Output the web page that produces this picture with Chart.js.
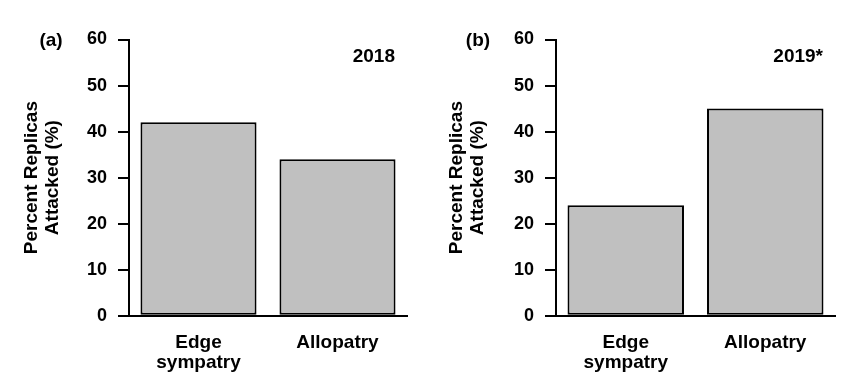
<!DOCTYPE html>
<html>
<head>
<meta charset="utf-8">
<script src="https://cdn.jsdelivr.net/npm/chart.js@4/dist/chart.umd.min.js"></script>
<style>
  html, body { margin: 0; padding: 0; background: #ffffff; }
  #wrap { position: relative; width: 850px; height: 384px; background: #ffffff; }
  .panel { position: absolute; top: 0; width: 425px; height: 384px; }
</style>
</head>
<body>
<div id="wrap">
  <div class="panel" style="left:0"><canvas id="chartA"></canvas></div>
  <div class="panel" style="left:425px"><canvas id="chartB"></canvas></div>
</div>
<script>
// ---- data ----
const categories = [['Edge', 'sympatry'], 'Allopatry'];
const attacked2018 = [42, 34];
const attacked2019 = [24, 45];
const yTickValues = [0, 10, 20, 30, 40, 50, 60];
const panelLabels = ['(a)', '(b)'];
const yearLabels = ['2018', '2019*'];
const yTitle = ['Percent Replicas', 'Attacked (%)'];

const FONT = "'Liberation Sans', Arial, sans-serif";

const annotatePlugin = {
  id: 'annotate',
  afterDraw(chart, args, opts) {
    const ctx = chart.ctx;
    const ca = chart.chartArea;
    ctx.save();
    ctx.fillStyle = '#000';
    ctx.font = 'bold 19px ' + FONT;
    ctx.textBaseline = 'middle';
    ctx.textAlign = 'center';
    ctx.fillText(opts.panel, ca.left - 78, ca.top + 1.5);
    ctx.textAlign = 'right';
    ctx.fillText(opts.year, ca.right - 12, ca.top + 17);
    ctx.restore();
  }
};

function makeChart(id, values, panel, year, axisWidth, rightPad) {
  return new Chart(document.getElementById(id), {
    type: 'bar',
    data: {
      labels: categories,
      datasets: [{
        data: values,
        backgroundColor: '#c0c0c0',
        borderColor: '#000000',
        borderWidth: 2,
        borderSkipped: false,
        barPercentage: 0.835,
        categoryPercentage: 1.0
      }]
    },
    options: {
      responsive: true,
      maintainAspectRatio: false,
      animation: false,
      events: [],
      layout: { padding: { left: 0, right: rightPad, top: 39.5, bottom: 0 } },
      plugins: {
        legend: { display: false },
        tooltip: { enabled: false },
        annotate: { panel: panel, year: year }
      },
      scales: {
        x: {
          offset: true,
          grid: { display: false, drawTicks: false, tickLength: 0 },
          border: { display: true, color: '#000', width: 2 },
          ticks: {
            color: '#000',
            padding: 16.5,
            font: { family: FONT, size: 19, weight: 'bold', lineHeight: 1.08 }
          },
          afterFit(scale) { scale.height = 68.3; }
        },
        y: {
          min: 0,
          max: 60,
          afterBuildTicks(scale) { scale.ticks = yTickValues.map(v => ({ value: v })); },
          grid: {
            display: true,
            drawOnChartArea: false,
            drawTicks: true,
            tickLength: 11,
            color: '#000',
            lineWidth: 2
          },
          border: { display: true, color: '#000', width: 2 },
          ticks: {
            color: '#000',
            padding: 11,
            font: { family: FONT, size: 18, weight: 'bold' }
          },
          title: {
            display: true,
            text: yTitle,
            color: '#000',
            padding: { top: 21.5, bottom: 0 },
            font: { family: FONT, size: 19, weight: 'bold', lineHeight: 1.08 }
          },
          afterFit(scale) { scale.width = axisWidth; }
        }
      }
    },
    plugins: [annotatePlugin]
  });
}

makeChart('chartA', attacked2018, panelLabels[0], yearLabels[0], 129, 18);
makeChart('chartB', attacked2019, panelLabels[1], yearLabels[1], 131, 15);
</script>
</body>
</html>
